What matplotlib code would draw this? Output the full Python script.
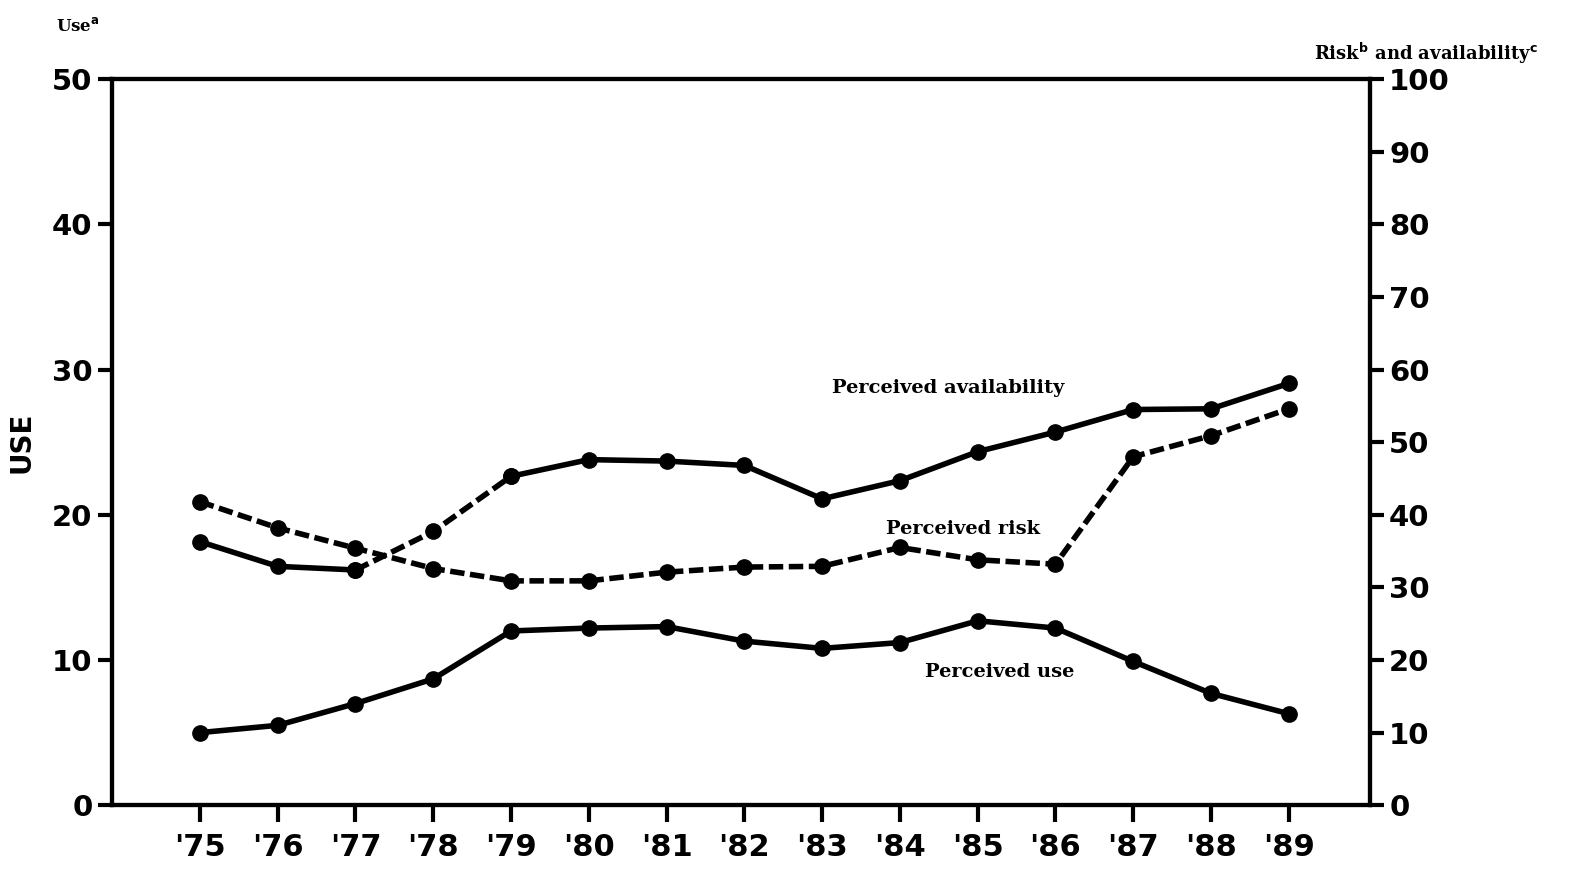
# encoding: utf-8

import numpy as np
import matplotlib

matplotlib.use('Agg')
import matplotlib.pyplot as plt

plt.rcParams['font.family'] = 'DejaVu Sans'
plt.rcParams['font.weight'] = 'bold'
plt.rcParams['axes.linewidth'] = 3.0
plt.rcParams['xtick.major.width'] = 3.0
plt.rcParams['ytick.major.width'] = 3.0
plt.rcParams['xtick.major.size'] = 12
plt.rcParams['ytick.major.size'] = 10

# data
years = [1975, 1976, 1977, 1978, 1979, 1980, 1981, 1982, 1983, 1984, 1985, 1986, 1987, 1988, 1989]
year_labels = ["'75", "'76", "'77", "'78", "'79", "'80", "'81", "'82", "'83", "'84",
               "'85", "'86", "'87", "'88", "'89"]
perceived_use = [5.0, 5.5, 7.0, 8.7, 12.0, 12.2, 12.3, 11.3, 10.8, 11.2, 12.7, 12.2, 9.9, 7.7, 6.3]
perceived_risk = [41.8, 38.2, 35.4, 32.6, 30.9, 30.9, 32.1, 32.8, 32.9, 35.5, 33.8, 33.2, 48.0, 50.9, 54.6]
perceived_avail = [36.3, 32.9, 32.4, 37.7, 45.3, 47.6, 47.4, 46.8, 42.2, 44.7, 48.7, 51.4, 54.5, 54.6, 58.1]

left_ticks = [0, 10, 20, 30, 40, 50]
right_ticks = [0, 10, 20, 30, 40, 50, 60, 70, 80, 90, 100]


def main():
    fig = plt.figure(figsize=(15.89, 8.8), dpi=100)
    ax = fig.add_axes([0.0705, 0.085, 0.7915, 0.825])
    ax2 = ax.twinx()

    lw = 4.0
    ms = 11
    dash = (0, (2.6, 1.0))

    # perceived use on the left axis
    ax.plot(years, perceived_use, color='black', lw=lw, marker='o', ms=ms)

    # perceived availability: solid, dashed between '77 and '79
    x = np.array(years)
    a = np.array(perceived_avail)
    ax2.plot(x[:3], a[:3], color='black', lw=lw, marker='o', ms=ms)
    ax2.plot(x[2:5], a[2:5], color='black', lw=lw, ls=dash, marker='o', ms=ms)
    ax2.plot(x[4:], a[4:], color='black', lw=lw, marker='o', ms=ms)

    # perceived risk: dashed
    ax2.plot(years, perceived_risk, color='black', lw=lw, ls=dash, marker='o', ms=ms)

    ax.set_xlim(1973.87, 1990.04)
    ax.set_ylim(0, 50)
    ax2.set_ylim(0, 100)

    ax.set_xticks(years)
    ax.set_xticklabels(year_labels, fontsize=22, fontweight='bold')
    ax.set_yticks(left_ticks)
    ax.set_yticklabels([str(t) for t in left_ticks], fontsize=21, fontweight='bold')
    ax2.set_yticks(right_ticks)
    ax2.set_yticklabels([str(t) for t in right_ticks], fontsize=21, fontweight='bold')
    ax.tick_params(axis='x', direction='out', pad=8)
    ax.tick_params(axis='y', direction='out', pad=4)
    ax2.tick_params(axis='y', direction='out', pad=4)

    ax.set_ylabel('USE', fontsize=20, fontweight='bold', labelpad=12)

    serif = {'family': 'DejaVu Serif', 'weight': 'bold'}
    fig.text(0.035, 0.965, r'Use$^{\mathbf{a}}$', fontsize=12, **serif)
    fig.text(0.827, 0.932, r'Risk$^{\mathbf{b}}$ and availability$^{\mathbf{c}}$', fontsize=13, **serif)

    fig.text(0.597, 0.559, 'Perceived availability', fontsize=14, ha='center', va='center', **serif)
    fig.text(0.606, 0.399, 'Perceived risk', fontsize=14, ha='center', va='center', **serif)
    fig.text(0.629, 0.236, 'Perceived use', fontsize=14, ha='center', va='center', **serif)

    fig.savefig('out.png', dpi=100)


if __name__ == '__main__':
    main()
